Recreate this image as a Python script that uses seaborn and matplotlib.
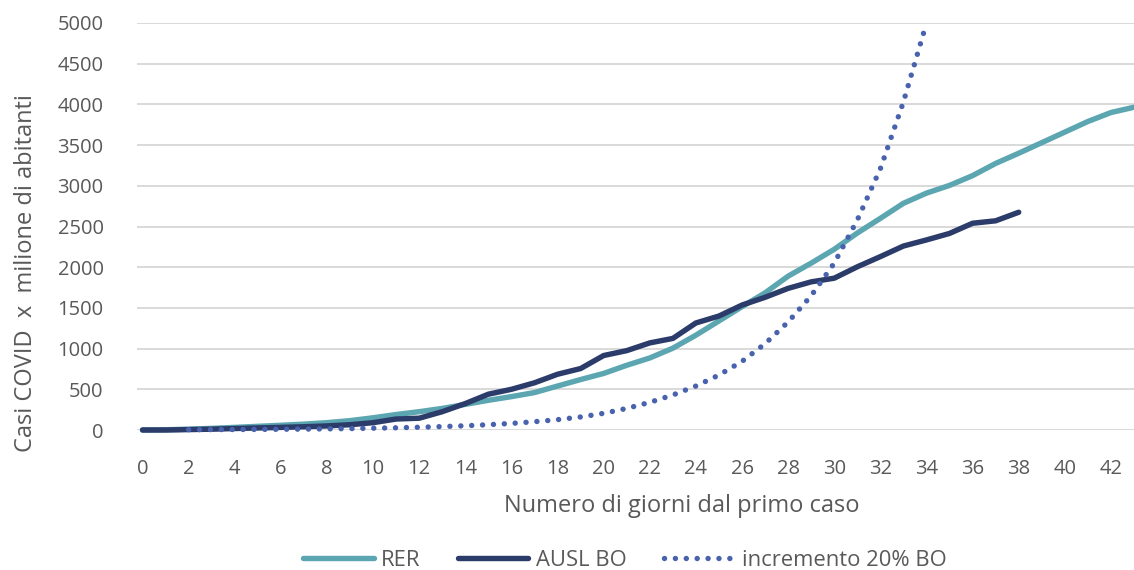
# %%
import matplotlib
import pandas as pd
import seaborn as sns
import matplotlib.pyplot as plt

FIGNAME = "out.png"

# casi COVID per milione di abitanti, per giorno dal primo caso
rer_days = list(range(0, 44))
rer_vals = [0, 3, 10, 20, 32, 45, 58, 72, 90, 115,
            150, 190, 225, 265, 315, 365, 410, 460, 540, 620,
            695, 795, 885, 1005, 1165, 1340, 1515, 1685, 1890, 2050,
            2220, 2420, 2600, 2785, 2910, 3005, 3125, 3275, 3400, 3530,
            3660, 3790, 3900, 3965]

ausl_days = list(range(0, 39))
ausl_vals = [0, 0, 5, 10, 18, 25, 32, 40, 50, 65,
             90, 135, 145, 225, 325, 440, 500, 580, 685, 755,
             915, 975, 1070, 1125, 1315, 1400, 1535, 1630, 1740, 1820,
             1865, 2005, 2130, 2260, 2335, 2415, 2540, 2570, 2675]

incr_days = list(range(2, 35))
incr_vals = [4, 5, 6, 7, 9, 11, 14, 17, 22, 27,
             34, 42, 52, 65, 81, 102, 127, 160, 205, 265,
             340, 430, 540, 675, 843, 1060, 1327, 1650, 2050, 2580,
             3210, 4030, 5000]

labels = ['RER', 'AUSL BO', 'incremento 20% BO']
colors = ['#5BA6B0', '#2B3C6A', '#4862AE']

xticks = list(range(0, 43, 2))
yticks = list(range(0, 5001, 500))

sns.set_style("white")
matplotlib.rcParams['font.family'] = ['Open Sans', 'DejaVu Sans']
TXT = '#595959'
TICK_FS = 14.5
LABEL_FS = 17
LEG_FS = 15.8

fig = plt.figure(figsize=(11.34, 5.70), dpi=100)
ax = fig.add_axes([137/1134, 140/570, 997/1134, 407/570])

df_rer = pd.DataFrame({'giorno': rer_days, 'casi': rer_vals})
df_ausl = pd.DataFrame({'giorno': ausl_days, 'casi': ausl_vals})
df_incr = pd.DataFrame({'giorno': incr_days, 'casi': incr_vals})

LW = 3.9
sns.lineplot(data=df_rer, x='giorno', y='casi', ax=ax, color=colors[0],
             linewidth=LW, label=labels[0], clip_on=False, zorder=3)
sns.lineplot(data=df_ausl, x='giorno', y='casi', ax=ax, color=colors[1],
             linewidth=LW, label=labels[1], clip_on=False, zorder=4)
sns.lineplot(data=df_incr, x='giorno', y='casi', ax=ax, color=colors[2],
             linewidth=LW, label=labels[2], clip_on=False, zorder=5)
dotted = ax.get_lines()[2]
dotted.set_linestyle((0, (0.01, 2.0)))
dotted.set_dash_capstyle('round')
for ln in ax.get_lines()[:2]:
    ln.set_solid_capstyle('round')

ax.set_xlim(-0.24, 43.0)
ax.set_ylim(0, 5000)
ax.set_xticks(xticks)
ax.set_yticks(yticks)
ax.tick_params(axis='both', length=0, colors=TXT, labelsize=TICK_FS)
ax.tick_params(axis='x', pad=21)
ax.tick_params(axis='y', pad=24)
ax.grid(axis='y', color='#D9D9D9', linewidth=1.4)
ax.grid(axis='x', visible=False)
sns.despine(ax=ax, left=True, bottom=True)

ax.set_xlabel('Numero di giorni dal primo caso', color=TXT, fontsize=LABEL_FS)
ax.xaxis.set_label_coords((682-137)/997, (430-494)/407)
ax.set_ylabel('Casi COVID  x  milione di abitanti', color=TXT, fontsize=LABEL_FS)
ax.yaxis.set_label_coords((38-137)/997, (430-273)/407)

ax.legend_.remove()
handles, lbls = ax.get_legend_handles_labels()
leg = fig.legend(handles, lbls, loc='center', bbox_to_anchor=(625/1134, 10/570),
                 ncol=3, frameon=False, handlelength=3.2, handletextpad=0.35,
                 columnspacing=1.7, fontsize=LEG_FS)
for t in leg.get_texts():
    t.set_color(TXT)

plt.savefig(FIGNAME, dpi=100)
